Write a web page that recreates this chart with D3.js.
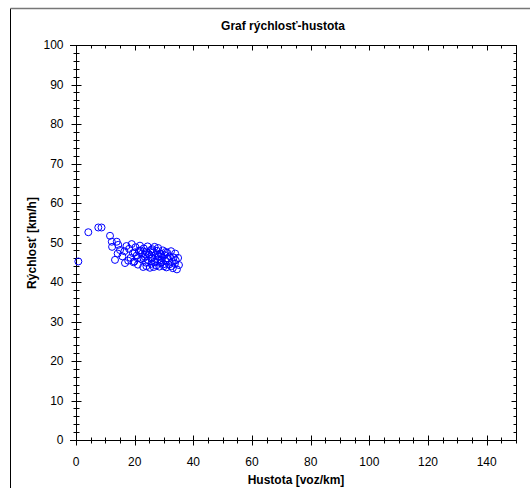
<!DOCTYPE html>
<meta charset="utf-8">
<style>
body { margin: 0; background: #fff; }
text { font-family: "Liberation Sans", Arial, sans-serif; }
.axis path, .axis line { stroke: #000; }
.lbl { font-size: 12px; fill: #000; }
.ttl { font-size: 12px; font-weight: bold; }
</style>
<body>
<script src="https://d3js.org/d3.v7.min.js"></script>
<script>
// data: hustota [voz/km], rychlost [km/h]
var density = [0.8,4.2,7.6,8.7,11.6,12.2,13.9,12.3,14.4,15,13.3,16.7,14.2,15.8,16.5,17.2,18.1,18.6,19.0,19.4,
  19.9,20.3,20.7,21.1,21.4,21.8,22.2,22.5,22.9,23.1,23.5,23.8,24.0,24.4,24.6,24.9,25.2,25.5,25.7,26.0,
  26.3,26.6,26.8,27.1,27.4,27.6,27.9,28.2,28.4,28.7,29.0,29.3,29.6,29.9,30.2,30.5,30.8,31.1,31.4,31.7,
  32.0,32.4,32.7,33.0,33.3,33.7,34.0,34.4,34.8,35.1,19.6,21.0,22.0,23.0,24.0,25.0,26.0,27.0,28.0,29.0,
  30.0,31.0,26.5,28.8,32.5,17.8,20.0,23.6,25.8,27.8,30.6,33.8];
var speed = [45.2,52.6,53.8,53.8,51.7,50.2,50.2,48.9,49.4,48.1,45.6,44.8,47.2,46.5,47.8,49.1,48.4,46.1,49.6,47.3,
  45.2,48.8,46.7,44.4,47.9,49.2,45.8,47.2,43.8,48.5,46.4,44.9,47.7,49.0,45.5,46.9,43.6,48.1,44.6,46.2,
  47.5,45.1,48.9,46.8,44.2,47.9,45.7,46.5,43.9,47.2,45.0,46.1,48.0,44.5,46.8,45.4,43.7,47.4,45.9,44.4,
  46.5,47.8,45.1,43.5,46.2,44.6,45.5,43.2,46.1,44.3,45.0,46.0,48.0,46.0,44.0,47.0,48.3,45.0,48.6,47.0,
  44.0,46.0,43.8,44.8,44.0,45.4,47.5,47.0,45.9,46.9,47.6,47.2];
var xTicks = [0, 20, 40, 60, 80, 100, 120, 140];
var yTicks = [0, 10, 20, 30, 40, 50, 60, 70, 80, 90, 100];

var W = 530, H = 488;
var svg = d3.select("body").append("svg").attr("width", W).attr("height", H);

// outer frame
svg.append("line").attr("x1", 10.5).attr("x2", 10.5).attr("y1", 8.5).attr("y2", H).attr("stroke", "#000");
svg.append("line").attr("x1", 10.5).attr("x2", W).attr("y1", 8.5).attr("y2", 8.5).attr("stroke", "#777").attr("stroke-width", 1.5);

var x = d3.scaleLinear().domain([0, 150]).range([76, 516]),
    y = d3.scaleLinear().domain([0, 100]).range([440, 45]);

svg.append("text").attr("class", "ttl").attr("x", 283).attr("y", 30)
  .attr("text-anchor", "middle").text("Graf rýchlosť-hustota");

// bottom axis
var gx = svg.append("g").attr("class", "axis").attr("transform", "translate(0,440.5)");
gx.append("line").attr("x1", x(0) - 6).attr("x2", x(150)).attr("stroke", "#000");
gx.selectAll(".mn").data(d3.range(0, 151, 5)).enter().append("line")
  .attr("x1", function(d) { return Math.round(x(d)) + 0.5; })
  .attr("x2", function(d) { return Math.round(x(d)) + 0.5; })
  .attr("y1", function(d) { return d % 20 == 0 ? -5 : -3; })
  .attr("y2", function(d) { return d % 20 == 0 ? 5 : 3; })
  .attr("stroke", "#000");
gx.selectAll(".tl").data(xTicks).enter().append("text").attr("class", "lbl")
  .attr("x", function(d) { return x(d); }).attr("y", 25).attr("text-anchor", "middle")
  .text(function(d) { return d; });

// top axis
var gt = svg.append("g").attr("transform", "translate(0,45.5)");
gt.append("line").attr("x1", x(0) - 6).attr("x2", x(150)).attr("stroke", "#000");
gt.selectAll("line.t").data(d3.range(0, 151, 5)).enter().append("line")
  .attr("x1", function(d) { return Math.round(x(d)) + 0.5; })
  .attr("x2", function(d) { return Math.round(x(d)) + 0.5; })
  .attr("y1", 0).attr("y2", function(d) { return d % 20 == 0 ? 5 : 3; })
  .attr("stroke", "#000");

// left axis
var gy = svg.append("g").attr("transform", "translate(76.5,0)");
gy.append("line").attr("y1", y(100)).attr("y2", y(0)).attr("stroke", "#000");
gy.selectAll("line.t").data(d3.range(0, 101, 2)).enter().append("line")
  .attr("y1", function(d) { return Math.round(y(d)) + 0.5; })
  .attr("y2", function(d) { return Math.round(y(d)) + 0.5; })
  .attr("x1", function(d) { return d % 10 == 0 ? -5 : -3; })
  .attr("x2", function(d) { return d % 10 == 0 ? 5 : 3; })
  .attr("stroke", "#000");
gy.selectAll(".tl").data(yTicks).enter().append("text").attr("class", "lbl")
  .attr("x", -13).attr("y", function(d) { return y(d) + 4; }).attr("text-anchor", "end")
  .text(function(d) { return d; });

// right axis
var gr = svg.append("g").attr("transform", "translate(516.5,0)");
gr.append("line").attr("y1", y(100)).attr("y2", y(0)).attr("stroke", "#000");
gr.selectAll("line.t").data(d3.range(0, 101, 2)).enter().append("line")
  .attr("y1", function(d) { return Math.round(y(d)) + 0.5; })
  .attr("y2", function(d) { return Math.round(y(d)) + 0.5; })
  .attr("x1", function(d) { return d % 10 == 0 ? -5 : -3; })
  .attr("x2", 0)
  .attr("stroke", "#000");

// axis titles
svg.append("text").attr("class", "ttl").attr("x", 296).attr("y", 484)
  .attr("text-anchor", "middle").text("Hustota [voz/km]");
svg.append("text").attr("class", "ttl")
  .attr("transform", "translate(36,243) rotate(-90)")
  .attr("text-anchor", "middle").text("Rýchlosť [km/h]");

// points
svg.append("g").selectAll("circle").data(density).enter().append("circle")
  .attr("cx", function(d) { return x(d); })
  .attr("cy", function(d, i) { return y(speed[i]); })
  .attr("r", 3.5)
  .attr("fill", "none")
  .attr("stroke", "#0000ff")
  .attr("stroke-width", 1);
</script>
</body>
